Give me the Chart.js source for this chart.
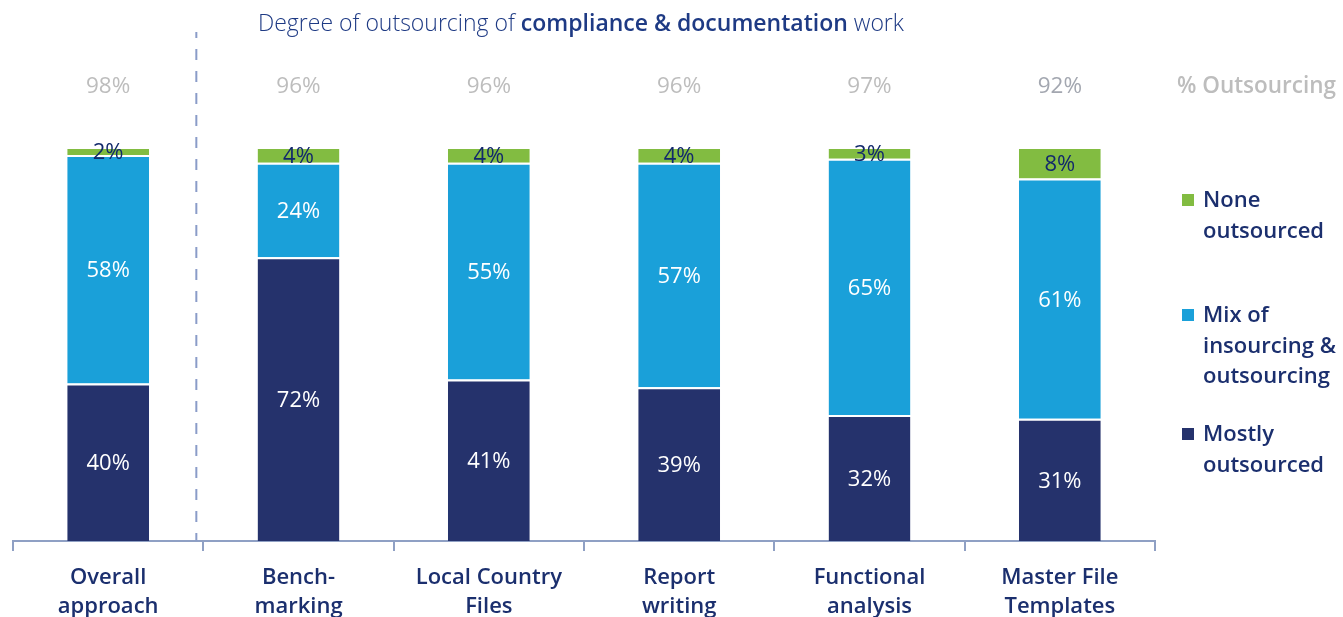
<!DOCTYPE html>
<html>
<head>
<meta charset="utf-8">
<script src="https://cdn.jsdelivr.net/npm/chart.js@4"></script>
<style>
  html, body { margin: 0; padding: 0; background: #fff; }
  #wrap { width: 1343px; height: 617px; position: relative; }
</style>
</head>
<body>
<div id="wrap"><canvas id="chart" width="1343" height="617"></canvas></div>
<script>
const categories = [["Overall", "approach"], ["Bench-", "marking"], ["Local Country", "Files"],
                    ["Report", "writing"], ["Functional", "analysis"], ["Master File", "Templates"]];
const mostlyOutsourced = [40, 72, 41, 39, 32, 31];
const mixInOut = [58, 24, 55, 57, 65, 61];
const noneOutsourced = [2, 4, 4, 4, 3, 8];
const outsourcingShare = ["98%", "96%", "96%", "96%", "97%", "92%"];
const legendLabels = [["None", "outsourced"], ["Mix of", "insourcing &", "outsourcing"], ["Mostly", "outsourced"]];

const NAVY = "#1b2f6e";
const FONT = "'Open Sans', 'Noto Sans', sans-serif";
const colors = { mostly: "#25326c", mix: "#1aa0d9", none: "#82bc41" };

// labels, title, legend, dashed divider
const decorations = {
  id: "decorations",
  afterDatasetsDraw(chart) {
    const ctx = chart.ctx;
    const area = chart.chartArea;
    const x = chart.scales.x;
    ctx.save();

    // segment labels
    ctx.textAlign = "center";
    ctx.textBaseline = "middle";
    ctx.font = "22px " + FONT;
    chart.data.datasets.forEach((ds, di) => {
      chart.getDatasetMeta(di).data.forEach((bar, i) => {
        ctx.fillStyle = di === 2 ? "#12296b" : "#ffffff";
        ctx.fillText(ds.data[i] + "%", bar.x, (bar.y + bar.base) / 2 + 2);
      });
    });

    // % outsourcing row
    ctx.font = "22.5px " + FONT;
    outsourcingShare.forEach((t, i) => {
      ctx.fillStyle = i === 5 ? "#a3a7b0" : "#bdbdbd";
      ctx.fillText(t, x.getPixelForValue(i), 87);
    });
    ctx.textAlign = "right";
    ctx.fillStyle = "#bdbdbd";
    ctx.font = "600 22.5px " + FONT;
    ctx.fillText("% Outsourcing", 1336, 87);

    // dashed divider between first and second category
    const dx = (x.getPixelForValue(0) + x.getPixelForValue(1)) / 2 - 7;
    ctx.strokeStyle = "#8a9cc8";
    ctx.lineWidth = 2;
    ctx.setLineDash([11, 11]);
    ctx.lineDashOffset = 5;
    ctx.beginPath();
    ctx.moveTo(dx, 32);
    ctx.lineTo(dx, area.bottom);
    ctx.stroke();
    ctx.setLineDash([]);

    // title with bold middle part
    const parts = [["300", "Degree of outsourcing of "], ["600", "compliance & documentation"], ["300", " work"]];
    let tx = 258;
    ctx.textAlign = "left";
    ctx.fillStyle = "#1e3a84";
    parts.forEach(([w, t]) => {
      ctx.font = w + " 23px " + FONT;
      ctx.fillText(t, tx, 24);
      tx += ctx.measureText(t).width;
    });

    // legend
    const legendColors = [colors.none, colors.mix, colors.mostly];
    const legendY = [200, 315, 434];
    ctx.font = "600 22px " + FONT;
    legendLabels.forEach((lines, k) => {
      ctx.fillStyle = legendColors[k];
      ctx.fillRect(1182, legendY[k] - 6, 12, 12);
      ctx.fillStyle = NAVY;
      lines.forEach((ln, j) => ctx.fillText(ln, 1203, legendY[k] + 1 + j * 30.5));
    });

    ctx.restore();
  }
};

new Chart(document.getElementById("chart"), {
  type: "bar",
  data: {
    labels: categories,
    datasets: [
      { label: "Mostly outsourced", data: mostlyOutsourced, backgroundColor: colors.mostly },
      { label: "Mix of insourcing & outsourcing", data: mixInOut, backgroundColor: colors.mix },
      { label: "None outsourced", data: noneOutsourced, backgroundColor: colors.none }
    ]
  },
  options: {
    responsive: false,
    animation: false,
    events: [],
    layout: { padding: { left: 13, right: 188, top: 147, bottom: 0 } },
    datasets: {
      bar: {
        categoryPercentage: 1,
        barPercentage: 0.43,
        borderColor: "#ffffff",
        borderWidth: { top: 2, left: 0, right: 0, bottom: 0 },
        borderSkipped: false
      }
    },
    plugins: { legend: { display: false }, tooltip: { enabled: false }, title: { display: false } },
    scales: {
      x: {
        stacked: true,
        afterFit: s => { s.height = 76; },
        border: { display: true, color: "#8fa0c4", width: 2 },
        grid: { offset: true, drawOnChartArea: false, drawTicks: true, tickLength: 10, color: "#8fa0c4", lineWidth: 2 },
        ticks: { color: NAVY, font: { family: FONT, size: 22, weight: "600", lineHeight: 1.33 }, padding: 12, maxRotation: 0, autoSkip: false }
      },
      y: { stacked: true, display: false, min: 0, max: 100 }
    }
  },
  plugins: [decorations]
});
</script>
</body>
</html>
